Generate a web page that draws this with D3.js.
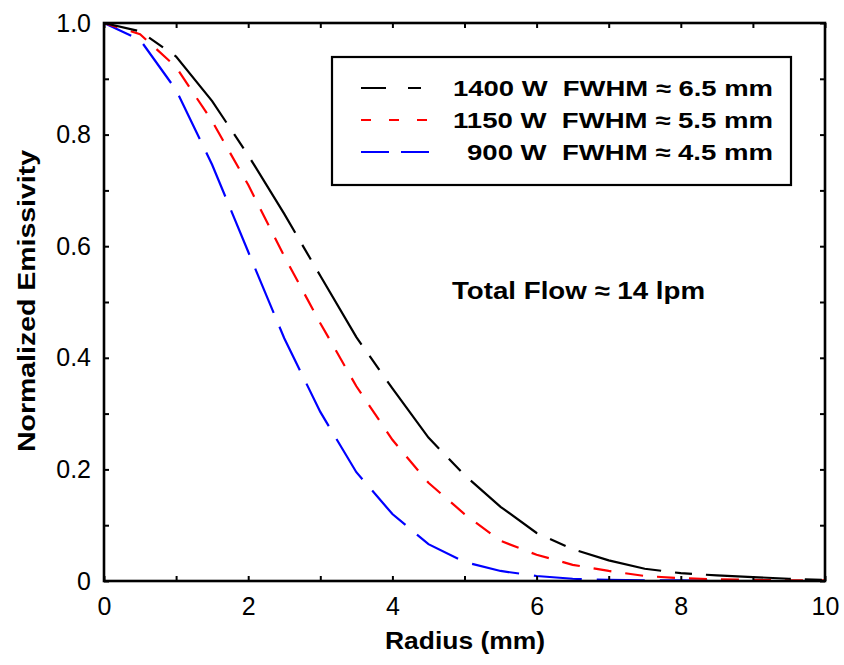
<!DOCTYPE html>
<html><head><meta charset="utf-8">
<script src="https://cdn.jsdelivr.net/npm/d3@7"></script>
<style>
body{margin:0;background:#fff;}
text{font-family:"Liberation Sans",Arial,Helvetica,sans-serif;}
</style></head>
<body><svg id="c" width="844" height="665"></svg>
<script>
const radius = [0,0.5,1,1.5,2,2.5,3,3.5,4,4.5,5,5.5,6,6.5,7,7.5,8,8.5,9,9.5,10];
const em1400 = [1.0,0.985,0.94,0.86,0.763,0.658,0.547,0.437,0.345,0.257,0.19,0.133,0.086,0.057,0.037,0.022,0.014,0.010,0.007,0.004,0.002];
const em1150 = [1.0,0.98,0.921,0.824,0.71,0.582,0.462,0.349,0.253,0.176,0.12,0.072,0.047,0.029,0.018,0.009,0.005,0.003,0.002,0.001,0.001];
const em900  = [1.0,0.97,0.88,0.746,0.59,0.435,0.303,0.195,0.12,0.066,0.034,0.018,0.009,0.004,0.002,0.001,0.001,0,0,0,0];
const seriesNames = ["1400 W  FWHM \u2248 6.5 mm","1150 W  FWHM \u2248 5.5 mm","900 W  FWHM \u2248 4.5 mm"];
const seriesColors = ["#000000","#ff0000","#0000ff"];
const xTicks = [0,1,2,3,4,5,6,7,8,9,10];
const yTicks = [0,0.1,0.2,0.3,0.4,0.5,0.6,0.7,0.8,0.9,1.0];
const annotation = "Total Flow \u2248 14 lpm";

const svg = d3.select("#c");
const L=104, T=23, W=721, H=558;
const x = d3.scaleLinear().domain([0,10]).range([L,L+W]);
const y = d3.scaleLinear().domain([0,1]).range([T+H,T]);

const dash = ["85,14,17,14","18,14","48,15"];
const dashOff = [51,4,18];
const legDash = ["25,22,13","10,18","28,12"];
const data = [em1400,em1150,em900];

const g = svg.append("g");
const line = d3.line().x((d,i)=>x(radius[i])).y(d=>y(d));
[2,1,0].forEach(k=>{
  g.append("path").datum(data[k]).attr("d",line).attr("fill","none")
   .attr("stroke",seriesColors[k]).attr("stroke-width",2.2)
   .attr("stroke-dasharray",dash[k]).attr("stroke-dashoffset",dashOff[k]);
});

function fmtX(d){return d%2===0?String(d):"";}
function fmtY(d){const r=Math.round(d*10);return r%2===0?(r===0?"0":d3.format(".1f")(d)):"";}

const ax = svg.append("g").attr("transform",`translate(0,${T+H})`)
  .call(d3.axisBottom(x).tickValues(xTicks).tickSize(-5).tickPadding(16).tickFormat(fmtX));
const axT = svg.append("g").attr("transform",`translate(0,${T})`)
  .call(d3.axisTop(x).tickValues(xTicks).tickSize(-5).tickFormat(""));
const ay = svg.append("g").attr("transform",`translate(${L},0)`)
  .call(d3.axisLeft(y).tickValues(yTicks).tickSize(-5).tickPadding(13).tickFormat(fmtY));
const ayR = svg.append("g").attr("transform",`translate(${L+W},0)`)
  .call(d3.axisRight(y).tickValues(yTicks).tickSize(-5).tickFormat(""));
[ax,axT,ay,ayR].forEach(a=>{
  a.select(".domain").remove();
  a.selectAll("line").attr("stroke","#000").attr("stroke-width",2);
  a.selectAll("text").attr("font-size",25).attr("fill","#000").style("font-family","'Liberation Sans',Arial,sans-serif");
});
svg.append("rect").attr("x",L).attr("y",T).attr("width",W).attr("height",H)
  .attr("fill","none").attr("stroke","#000").attr("stroke-width",2.6);

svg.append("text").attr("x",465).attr("y",649).attr("text-anchor","middle")
  .attr("font-size",24).attr("font-weight","bold").attr("textLength",160).attr("lengthAdjust","spacingAndGlyphs")
  .text("Radius (mm)");
svg.append("text").attr("transform","translate(35,301) rotate(-90)").attr("text-anchor","middle")
  .attr("font-size",24).attr("font-weight","bold").attr("textLength",302).attr("lengthAdjust","spacingAndGlyphs")
  .text("Normalized Emissivity");
svg.append("text").attr("x",452).attr("y",299)
  .attr("font-size",24).attr("font-weight","bold").attr("textLength",253).attr("lengthAdjust","spacingAndGlyphs")
  .text(annotation);

// legend
const lg = svg.append("g");
lg.append("rect").attr("x",332).attr("y",57).attr("width",459).attr("height",128)
  .attr("fill","#fff").attr("stroke","#000").attr("stroke-width",2.2);
const rowY = [88,120,152];
const textW = [320,320,306];
seriesNames.forEach((nm,k)=>{
  lg.append("line").attr("x1",361).attr("x2",431).attr("y1",rowY[k]).attr("y2",rowY[k])
    .attr("stroke",seriesColors[k]).attr("stroke-width",2.2).attr("stroke-dasharray",legDash[k]);
  lg.append("text").attr("x",773).attr("y",rowY[k]+8).attr("text-anchor","end")
    .attr("font-size",22).attr("font-weight","bold").style("white-space","pre")
    .attr("textLength",textW[k]).attr("lengthAdjust","spacingAndGlyphs")
    .attr("xml:space","preserve")
    .text(nm);
});
</script></body></html>
